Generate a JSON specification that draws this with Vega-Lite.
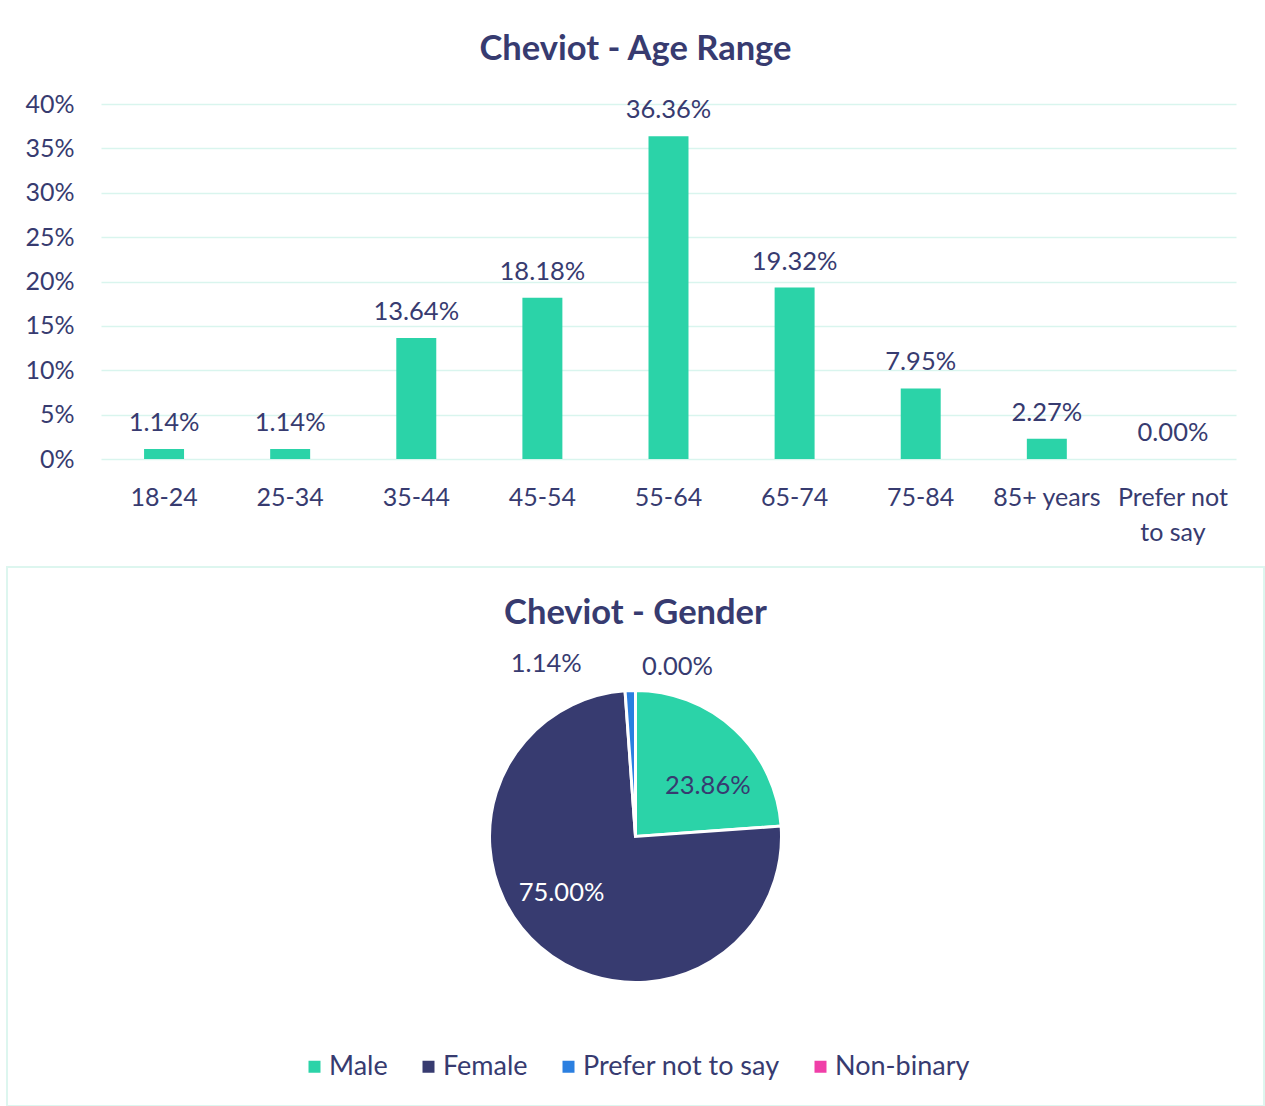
{
  "$schema": "https://vega.github.io/schema/vega-lite/v6.json",
  "background": "white",
  "padding": {"left": 6, "top": 31, "right": 2, "bottom": 0},
  "spacing": 21,
  "config": {
    "font": "Lato",
    "view": {"stroke": null},
    "title": {"font": "Lato", "color": "#373B70", "fontWeight": "bold", "fontSize": 34.5},
    "legend": {"layout": {"bottom": {"anchor": "middle"}}}
  },
  "vconcat": [
    {
      "spacing": 0,
      "hconcat": [
        {
          "width": 1,
          "height": 1,
          "view": {"fill": "white", "stroke": null},
          "data": {"values": []},
          "mark": "point"
        },
        {
          "title": {"text": "Cheviot - Age Range", "anchor": "middle", "frame": "group", "offset": 25, "dx": -33},
          "width": 1135,
          "height": 355,
          "data": {
            "values": [
              {"age": "18-24", "share": 0.0114},
              {"age": "25-34", "share": 0.0114},
              {"age": "35-44", "share": 0.1364},
              {"age": "45-54", "share": 0.1818},
              {"age": "55-64", "share": 0.3636},
              {"age": "65-74", "share": 0.1932},
              {"age": "75-84", "share": 0.0795},
              {"age": "85+ years", "share": 0.0227},
              {"age": "Prefer not to say", "share": 0.0}
            ]
          },
          "encoding": {
            "x": {
              "field": "age", "type": "nominal", "sort": null,
              "scale": {"paddingInner": 0.683, "paddingOuter": 0.3415},
              "axis": {
                "title": null, "labelAngle": 0, "ticks": false, "domain": false, "grid": false,
                "labelFontSize": 25, "labelColor": "#373B70", "labelPadding": 26,
                "labelLineHeight": 35,
                "labelExpr": "datum.label == 'Prefer not to say' ? ['Prefer not', 'to say'] : datum.label"
              }
            },
            "y": {
              "field": "share", "type": "quantitative",
              "scale": {"domain": [0, 0.4]},
              "axis": {
                "title": "%", "titleOpacity": 0, "titleFontSize": 11, "titlePadding": 5,
                "format": ".0%", "values": [0, 0.05, 0.1, 0.15, 0.2, 0.25, 0.3, 0.35, 0.4],
                "ticks": false, "domain": false, "labelFontSize": 25, "labelColor": "#373B70",
                "labelPadding": 27, "gridColor": "#D9F5EE", "gridWidth": 1.5
              }
            }
          },
          "layer": [
            {"mark": {"type": "bar", "color": "#2BD3A8"}},
            {
              "mark": {"type": "text", "baseline": "bottom", "dy": -13, "fontSize": 25.5, "color": "#373B70"},
              "encoding": {"text": {"field": "share", "type": "quantitative", "format": ".2%"}}
            }
          ]
        }
      ]
    },
    {
      "title": {"text": "Cheviot - Gender", "anchor": "middle", "frame": "group", "offset": -64},
      "width": 1257,
      "height": 539,
      "view": {"stroke": "#DDF6EF", "strokeWidth": 2},
      "data": {
        "values": [
          {"gender": "Male", "share": 0.2386, "ord": 1},
          {"gender": "Female", "share": 0.75, "ord": 2},
          {"gender": "Prefer not to say", "share": 0.0114, "ord": 3},
          {"gender": "Non-binary", "share": 0.0, "ord": 4}
        ]
      },
      "encoding": {
        "theta": {"field": "share", "type": "quantitative", "stack": true},
        "order": {"field": "ord", "type": "quantitative"}
      },
      "layer": [
        {
          "mark": {"type": "arc", "outerRadius": 146, "stroke": "white", "strokeWidth": 3},
          "encoding": {
            "color": {
              "field": "gender", "type": "nominal",
              "scale": {"domain": ["Male", "Female", "Prefer not to say", "Non-binary"],
                        "range": ["#2BD3A8", "#373B70", "#2B7FE0", "#F03FA8"]},
              "legend": {
                "title": null, "orient": "bottom", "offset": -54, "direction": "horizontal",
                "symbolType": "square", "symbolSize": 144, "symbolStrokeWidth": 0,
                "labelFontSize": 27, "labelColor": "#373B70", "labelLimit": 400,
                "columnPadding": 27, "labelOffset": 1
              }
            }
          }
        },
        {
          "mark": {"type": "text", "radius": 90, "fontSize": 25.5, "color": "#373B70", "dx": 11, "dy": 15},
          "encoding": {"text": {"condition": {"test": "datum.gender == 'Male'", "field": "share", "format": ".2%"}, "value": ""}}
        },
        {
          "mark": {"type": "text", "radius": 90, "fontSize": 25.5, "color": "white", "dx": -15, "dy": -12},
          "encoding": {"text": {"condition": {"test": "datum.gender == 'Female'", "field": "share", "format": ".2%"}, "value": ""}}
        },
        {
          "mark": {"type": "text", "radius": 175, "fontSize": 25.5, "color": "#373B70", "dx": -83, "dy": 2},
          "encoding": {"text": {"condition": {"test": "datum.gender == 'Prefer not to say'", "field": "share", "format": ".2%"}, "value": ""}}
        },
        {
          "mark": {"type": "text", "radius": 175, "fontSize": 25.5, "color": "#373B70", "dx": 42, "dy": 5},
          "encoding": {"text": {"condition": {"test": "datum.gender == 'Non-binary'", "field": "share", "format": ".2%"}, "value": ""}}
        }
      ]
    }
  ]
}
